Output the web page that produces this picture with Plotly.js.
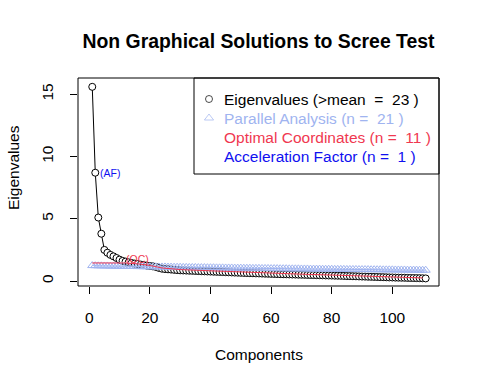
<!DOCTYPE html>
<html>
<head>
<meta charset="utf-8">
<script src="https://cdn.plot.ly/plotly-3.0.1.min.js"></script>
<style>html,body{margin:0;padding:0;background:#fff}#chart{width:480px;height:384px}</style>
</head>
<body>
<div id="chart"></div>
<script>
// ---- data ----
const eigenvalues = [
  15.6, 8.7, 5.1, 3.8, 2.5, 2.27, 2.1, 1.98, 1.85, 1.72,
  1.62, 1.56, 1.50, 1.45, 1.40, 1.36, 1.32, 1.28, 1.24, 1.21,
  1.18, 1.13, 1.05, 0.99, 0.96, 0.94, 0.92, 0.90, 0.88, 0.86,
  0.85, 0.84, 0.83, 0.82, 0.81, 0.80, 0.79, 0.78, 0.77, 0.76,
  0.75, 0.74, 0.73, 0.72, 0.71, 0.70, 0.69, 0.68, 0.67, 0.66,
  0.65, 0.64, 0.63, 0.625, 0.615, 0.61, 0.60, 0.59, 0.585, 0.575,
  0.57, 0.56, 0.55, 0.545, 0.54, 0.53, 0.525, 0.52, 0.51, 0.505,
  0.50, 0.49, 0.485, 0.48, 0.47, 0.465, 0.46, 0.45, 0.445, 0.44,
  0.43, 0.425, 0.42, 0.41, 0.40, 0.395, 0.385, 0.38, 0.37, 0.36,
  0.355, 0.345, 0.34, 0.33, 0.325, 0.315, 0.31, 0.30, 0.29, 0.285,
  0.275, 0.27, 0.265, 0.26, 0.25, 0.245, 0.24, 0.235, 0.23, 0.22, 0.21
];
const parallelAnalysis = [
  1.24, 1.23, 1.22, 1.22, 1.21, 1.21, 1.20, 1.20, 1.19, 1.19,
  1.18, 1.18, 1.17, 1.17, 1.17, 1.16, 1.16, 1.15, 1.15, 1.15,
  1.14, 1.14, 1.13, 1.13, 1.13, 1.12, 1.12, 1.11, 1.11, 1.11,
  1.10, 1.10, 1.09, 1.09, 1.09, 1.08, 1.08, 1.08, 1.07, 1.07,
  1.07, 1.06, 1.06, 1.06, 1.05, 1.05, 1.05, 1.04, 1.04, 1.04,
  1.03, 1.03, 1.03, 1.02, 1.02, 1.02, 1.01, 1.01, 1.01, 1.00,
  1.00, 1.00, 0.99, 0.99, 0.99, 0.98, 0.98, 0.98, 0.98, 0.97,
  0.97, 0.97, 0.96, 0.96, 0.96, 0.96, 0.95, 0.95, 0.95, 0.95,
  0.94, 0.94, 0.94, 0.94, 0.93, 0.93, 0.93, 0.93, 0.92, 0.92,
  0.92, 0.92, 0.91, 0.91, 0.91, 0.91, 0.90, 0.90, 0.90, 0.90,
  0.89, 0.89, 0.89, 0.89, 0.88, 0.88, 0.88, 0.88, 0.87, 0.87, 0.87
];
const ocLineX = [1, 12, 16, 20, 24, 30, 40, 50, 60, 70, 80, 90, 100, 110];
const ocLineY = [1.45, 1.45, 1.38, 1.25, 1.05, 0.92, 0.82, 0.72, 0.62, 0.55, 0.48, 0.41, 0.33, 0.25];
const components = eigenvalues.map((_, i) => i + 1);
const nKaiser = 23, nParallel = 21, nOC = 11, nAF = 1;
const afComponent = 2;   // where the (AF) label is placed
const xTicks = [0, 20, 40, 60, 80, 100];
const yTicks = [0, 5, 10, 15];

// ---- styling ----
const FONT = 'Liberation Sans, Arial, sans-serif';
const C_EIG = '#000000', C_PA = '#a0b4f0', C_OC = '#f03850', C_AF = '#1010f0';
const L = 78, R = 439, T = 78, B = 286;
const px = v => (v - L) / (R - L);
const py = v => (B - v) / (B - T);
const sp = '\u00a0';

const traces = [
  { x: components, y: eigenvalues, type: 'scatter', mode: 'lines+markers',
    line: { color: C_EIG, width: 1 },
    marker: { symbol: 'circle', size: 7, color: '#ffffff', line: { width: 1, color: C_EIG } },
    showlegend: false, hoverinfo: 'skip' },
  { x: components, y: parallelAnalysis, type: 'scatter', mode: 'lines+markers',
    line: { color: C_PA, width: 1 },
    marker: { symbol: 'triangle-up-open', size: 8, color: C_PA, line: { width: 1, color: C_PA } },
    showlegend: false, hoverinfo: 'skip' },
  { x: ocLineX, y: ocLineY, type: 'scatter', mode: 'lines',
    line: { color: C_OC, width: 1 }, showlegend: false, hoverinfo: 'skip' },
  // legend symbols on an overlay axis in paper-like units
  { x: [px(209), px(209)], y: [py(99), py(118)], xaxis: 'x2', yaxis: 'y2', type: 'scatter', mode: 'markers',
    marker: { symbol: ['circle-open', 'triangle-up-open'], size: [7, 8], color: [C_EIG, C_PA], line: { width: 1, color: [C_EIG, C_PA] } },
    showlegend: false, hoverinfo: 'skip' }
];

const legendRows = [
  { text: 'Eigenvalues (>mean ' + sp + '= ' + sp + nKaiser + ' )', color: C_EIG, y: 99 },
  { text: 'Parallel Analysis (n = ' + sp + nParallel + ' )', color: C_PA, y: 118 },
  { text: 'Optimal Coordinates (n = ' + sp + nOC + ' )', color: C_OC, y: 137 },
  { text: 'Acceleration Factor (n = ' + sp + nAF + ' )', color: C_AF, y: 156 }
];

const annotations = legendRows.map(r => ({
  xref: 'paper', yref: 'paper', x: px(222), y: py(r.y), xanchor: 'left', yanchor: 'middle',
  text: r.text, showarrow: false, font: { family: FONT, size: 15.5, color: r.color }
}));
annotations.push(
  { x: afComponent, y: eigenvalues[afComponent - 1], xref: 'x', yref: 'y', xanchor: 'left', yanchor: 'middle', xshift: 3,
    text: '(AF)', showarrow: false, font: { family: FONT, size: 10.5, color: C_AF } },
  { x: nOC, y: eigenvalues[nOC - 1], xref: 'x', yref: 'y', xanchor: 'left', yanchor: 'middle', xshift: 1, yshift: 2,
    text: '(OC)', showarrow: false, font: { family: FONT, size: 10.5, color: C_OC } },
  { xref: 'paper', yref: 'paper', x: 0.5, y: py(354), xanchor: 'center', yanchor: 'middle',
    text: 'Components', showarrow: false, font: { family: FONT, size: 15.5, color: '#000' } },
  { xref: 'paper', yref: 'paper', x: px(13), y: py(168), xanchor: 'center', yanchor: 'middle', textangle: -90,
    text: 'Eigenvalues', showarrow: false, font: { family: FONT, size: 15.5, color: '#000' } }
);

const layout = {
  width: 480, height: 384,
  margin: { l: L, r: 480 - R, t: T, b: 384 - B, pad: 0 },
  paper_bgcolor: '#fff', plot_bgcolor: '#fff',
  font: { family: FONT, size: 15.5, color: '#000' },
  title: { text: '<b>Non Graphical Solutions to Scree Test</b>', x: 0.5, xref: 'paper', xanchor: 'center',
           y: 1 - 41 / 384, yref: 'container', yanchor: 'middle', font: { family: FONT, size: 19.4, color: '#000' } },
  xaxis: { range: [-3.7, 115.4], tickvals: xTicks, ticktext: xTicks.map(String), ticks: 'outside', ticklen: 7,
           tickcolor: '#000', tickwidth: 1, showgrid: false, zeroline: false, showline: false,
           ticklabelstandoff: 10, tickfont: { family: FONT, size: 15.5, color: '#000' } },
  yaxis: { range: [-0.40, 16.31], tickvals: yTicks, ticktext: yTicks.map(String), ticks: 'outside', ticklen: 7,
           tickcolor: '#000', tickwidth: 1, showgrid: false, zeroline: false, showline: false, tickangle: -90,
           ticklabelstandoff: 11, tickfont: { family: FONT, size: 15.5, color: '#000' } },
  xaxis2: { overlaying: 'x', range: [0, 1], visible: false, fixedrange: true },
  yaxis2: { overlaying: 'y', range: [0, 1], visible: false, fixedrange: true },
  shapes: [
    { type: 'rect', xref: 'paper', yref: 'paper', x0: 0, x1: 1, y0: 0, y1: 1, line: { color: '#000', width: 1 } },
    { type: 'rect', xref: 'paper', yref: 'paper', x0: px(194), x1: 1, y0: py(174), y1: 1,
      line: { color: '#000', width: 1 }, fillcolor: 'rgba(255,255,255,0)' }
  ],
  annotations: annotations,
  showlegend: false
};

Plotly.newPlot('chart', traces, layout, { staticPlot: true, displayModeBar: false });
</script>
</body>
</html>
